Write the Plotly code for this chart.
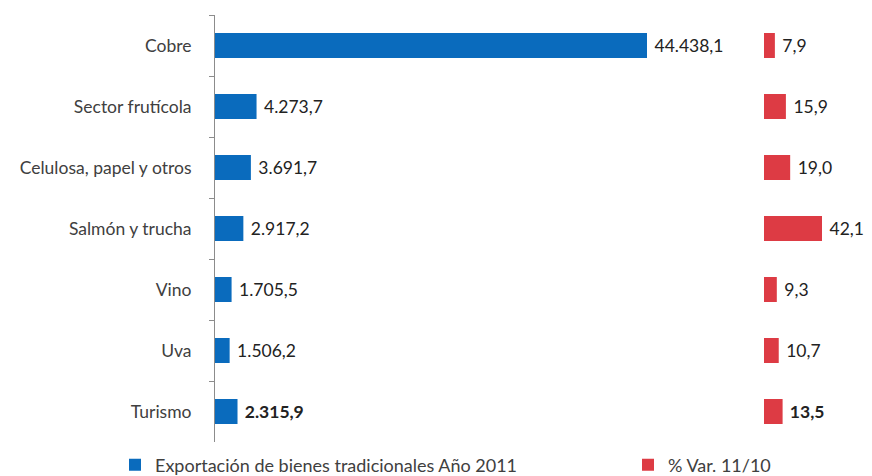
import plotly.graph_objects as go

categories = ["Cobre", "Sector frutícola", "Celulosa, papel y otros", "Salmón y trucha",
              "Vino", "Uva", "Turismo"]
export_2011 = [44438.1, 4273.7, 3691.7, 2917.2, 1705.5, 1506.2, 2315.9]
var_pct = [7.9, 15.9, 19.0, 42.1, 9.3, 10.7, 13.5]
bold_flags = [False, False, False, False, False, False, True]

series1_name = "Exportación de bienes tradicionales Año 2011"
series2_name = "% Var. 11/10"

# the page body adds an 8px offset; figure sized to the visible area
OFF = 8
W, H = 872 - OFF, 476 - OFF
FONT = "Lato"
TXT = "#404040"
NB = "\u00a0"


def px_x(x):
    return (x - OFF) / W


def px_y(y):
    return 1 - (y - OFF) / H


tt = [("<b>" + NB + "%{x:,.1f}</b>" if b else NB + "%{x:,.1f}") for b in bold_flags]

fig = go.Figure()
fig.add_trace(go.Bar(
    y=categories, x=export_2011, orientation="h", name=series1_name,
    marker=dict(color="#0A6BBD", line=dict(width=0)),
    texttemplate=tt, textposition="outside", cliponaxis=False,
    textfont=dict(family=FONT, size=17.5, color="#222222"),
    xaxis="x", yaxis="y", legend="legend",
))
fig.add_trace(go.Bar(
    y=categories, x=var_pct, orientation="h", name=series2_name,
    marker=dict(color="#DD3B44", line=dict(width=0)),
    texttemplate=tt, textposition="outside", cliponaxis=False,
    textfont=dict(family=FONT, size=17.5, color="#222222"),
    xaxis="x2", yaxis="y", legend="legend2",
))

fig.update_layout(
    width=W, height=H,
    margin=dict(l=0, r=0, t=0, b=0, autoexpand=False),
    paper_bgcolor="white", plot_bgcolor="white",
    separators=",.",
    font=dict(family=FONT, size=17.5, color=TXT),
    bargap=0.59,
    showlegend=True,
    xaxis=dict(domain=[px_x(215), px_x(740)], range=[0, 525 * 44438.1 / 432],
               visible=False, showgrid=False, zeroline=False),
    xaxis2=dict(domain=[px_x(764), 1.0], range=[0, (872 - 764) * 42.1 / 58],
                visible=False, showgrid=False, zeroline=False),
    yaxis=dict(domain=[px_y(442), px_y(15)], autorange="reversed",
               type="category", showline=True, linecolor="#8C8C8C", linewidth=1,
               ticks="outside", tickson="boundaries", ticklen=5, tickcolor="#8C8C8C",
               ticklabelstandoff=19, showgrid=False, zeroline=False,
               tickfont=dict(family=FONT, size=17.5, color=TXT)),
    legend=dict(orientation="h", x=px_x(115), y=px_y(465), xanchor="left", yanchor="middle",
                font=dict(family=FONT, size=18, color=TXT), bgcolor="rgba(0,0,0,0)",
                itemwidth=30),
    legend2=dict(orientation="h", x=px_x(628), y=px_y(465), xanchor="left", yanchor="middle",
                 font=dict(family=FONT, size=18, color=TXT), bgcolor="rgba(0,0,0,0)",
                 itemwidth=30),
)

fig.write_html("out.html")
